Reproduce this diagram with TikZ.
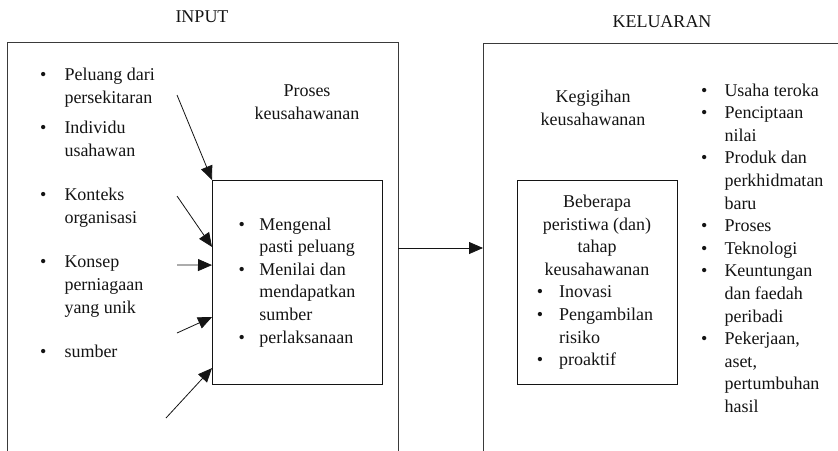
\documentclass[tikz,border=0pt]{standalone}
\usepackage{fontspec}
\setmainfont{Liberation Serif}
\usetikzlibrary{arrows.meta,calc,positioning}
\definecolor{kuInk}{HTML}{141414}
\definecolor{kuLine}{HTML}{3A3A3A}

\begin{document}
\begin{tikzpicture}[x=1pt,y=-1pt,>={Triangle[length=14pt,width=12pt]},line join=miter]
\useasboundingbox (0,0) rectangle (838,450);
\tikzset{txt/.style={text=kuInk,inner sep=0pt,font=\fontsize{18}{22.6}\selectfont},outerbox/.style={draw=kuLine,line width=0.9pt,inner sep=0pt,outer sep=0pt},stagebox/.style={draw=kuInk,line width=0.8pt,inner sep=0pt,outer sep=0pt,txt},link/.style={draw=kuInk,line width=0.8pt,->}}
% the two large frames run past the lower edge
\node[outerbox,minimum width=391pt,minimum height=412pt] (inbox) at (202.5,248) {};
\node[outerbox,minimum width=387pt,minimum height=410pt] (outbox) at (676.5,248) {};
\node[txt] (inputlbl) at (202,17) {INPUT};
\node[txt] (outputlbl) at (662,22) {KELUARAN};
% input side
\node[txt,anchor=base west,font=\fontsize{18}{23}\selectfont] (inlist) at (40,80) {\begin{tabular}[t]{@{}c@{\hspace{18pt}}l@{}}
\textbullet & Peluang dari\\ & persekitaran\\[7pt]
\textbullet & Individu\\ & usahawan\\[21pt]
\textbullet & Konteks\\ & organisasi\\[21pt]
\textbullet & Konsep\\ & perniagaan\\ & yang unik\\[21pt]
\textbullet & sumber
\end{tabular}};
\node[txt,align=center] (prosestitle) at (307,102) {Proses\\keusahawanan};
\node[stagebox,minimum width=170pt,minimum height=204pt] (proc) at (297,282) {\begin{tabular}{@{}c@{\hspace{14.5pt}}l@{}}
\textbullet & Mengenal\\ & pasti peluang\\
\textbullet & Menilai dan\\ & mendapatkan\\ & sumber\\
\textbullet & perlaksanaan
\end{tabular}};
\coordinate (s1) at (177,95); \coordinate (s2) at (177,196); \coordinate (s3) at (177,265);
\coordinate (s4) at (177,333); \coordinate (s5) at (166,418);
\draw[link] (s1) -- (proc.north west);
\draw[link] (s2) -- ($(proc.north west)!0.328!(proc.south west)$);
\draw[link] (s3) -- ($(proc.north west)!0.417!(proc.south west)$);
\draw[link] (s4) -- ($(proc.north west)!0.672!(proc.south west)$);
\draw[link] (s5) -- ($(proc.north west)!0.922!(proc.south west)$);
\draw[link] (inbox.east) -- (outbox.west);
% output side
\node[txt,align=center] (gigihtitle) at (593,108) {Kegigihan\\keusahawanan};
\node[stagebox,minimum width=160pt,minimum height=204pt] (stages) at (597,282) {\begin{tabular}{@{}c@{\hspace{16pt}}l@{}}
\multicolumn{2}{c}{Beberapa}\\ \multicolumn{2}{c}{peristiwa (dan)}\\
\multicolumn{2}{c}{tahap}\\ \multicolumn{2}{c}{keusahawanan}\\
\textbullet & Inovasi\\ \textbullet & Pengambilan\\ & risiko\\ \textbullet & proaktif
\end{tabular}};
\node[txt,anchor=base west] (outlist) at (701,96) {\begin{tabular}[t]{@{}c@{\hspace{17pt}}l@{}}
\textbullet & Usaha teroka\\ \textbullet & Penciptaan\\ & nilai\\
\textbullet & Produk dan\\ & perkhidmatan\\ & baru\\
\textbullet & Proses\\ \textbullet & Teknologi\\
\textbullet & Keuntungan\\ & dan faedah\\ & peribadi\\
\textbullet & Pekerjaan,\\ & aset,\\ & pertumbuhan\\ & hasil
\end{tabular}};
\end{tikzpicture}
\end{document}
